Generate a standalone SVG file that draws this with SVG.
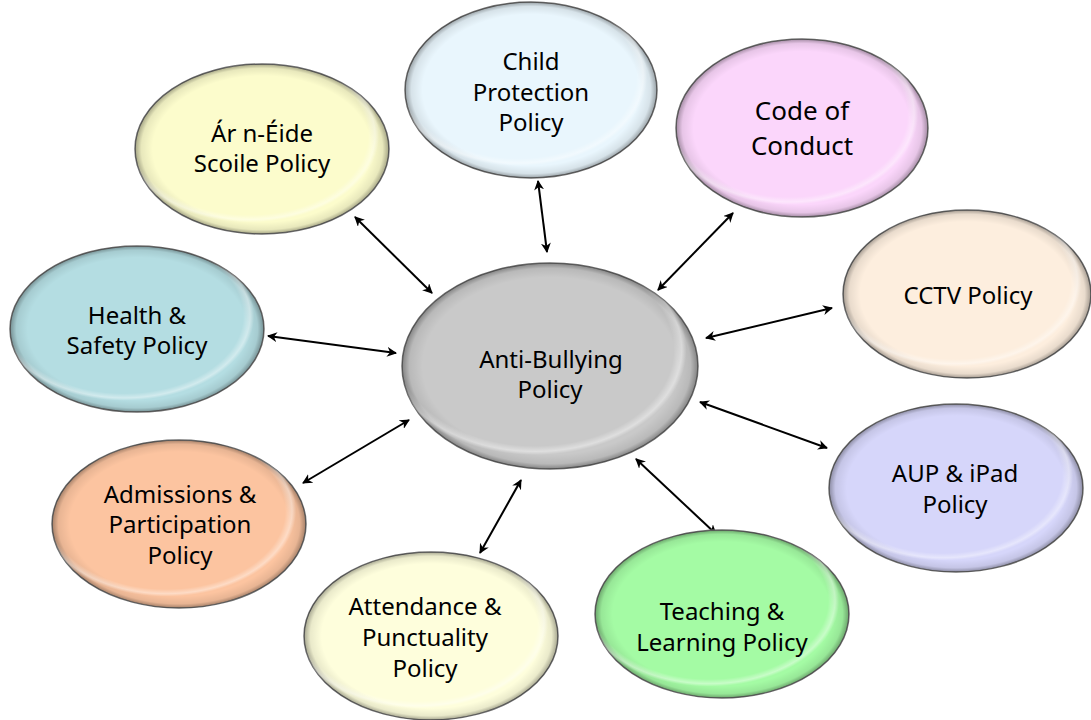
<svg xmlns="http://www.w3.org/2000/svg" width="1091" height="720" viewBox="0 0 1091 720">
<defs>
<radialGradient id="bevel" cx="0.5" cy="0.5" r="0.5">
<stop offset="0.86" stop-color="#000" stop-opacity="0"/>
<stop offset="0.95" stop-color="#000" stop-opacity="0.08"/>
<stop offset="1" stop-color="#000" stop-opacity="0.35"/>
</radialGradient>
<radialGradient id="hl" cx="0.45" cy="0.42" r="0.55">
<stop offset="0.85" stop-color="#fff" stop-opacity="0"/>
<stop offset="0.9" stop-color="#fff" stop-opacity="0.4"/>
<stop offset="0.93" stop-color="#fff" stop-opacity="0"/>
</radialGradient>
<marker id="ah" viewBox="0 0 10 10" refX="9" refY="5" markerWidth="5" markerHeight="5" orient="auto-start-reverse" markerUnits="strokeWidth">
<path d="M0,0 L10,5 L0,10 L3,5 z" fill="#000"/>
</marker>
</defs>
<style>
.sh{stroke:#6f6f6f;stroke-width:1.5}
.bv{fill:url(#bevel)}
.hl{fill:url(#hl)}
text{font-family:"Noto Sans","Open Sans",sans-serif;font-size:24px;fill:#000;text-anchor:middle}
.big{font-size:26px}
.cn line{stroke:#000;stroke-width:2;marker-start:url(#ah);marker-end:url(#ah)}
</style>
<rect width="1091" height="720" fill="#fff"/>

<g id="connectors" class="cn">
<line x1="355" y1="217" x2="432" y2="293"/>
<line x1="538" y1="181" x2="547" y2="252"/>
<line x1="733" y1="213" x2="658" y2="290"/>
<line x1="268" y1="336" x2="396" y2="353"/>
<line x1="706" y1="338" x2="832" y2="308"/>
<line x1="700" y1="402" x2="827" y2="448"/>
<line x1="636" y1="459" x2="716" y2="534"/>
<line x1="521" y1="480" x2="480" y2="553"/>
<line x1="409" y1="420" x2="303" y2="483"/>
</g>

<g id="center">
<ellipse cx="550" cy="366" rx="148" ry="103" fill="#c9c9c9" class="sh"/>
<ellipse cx="550" cy="366" rx="148" ry="103" class="bv"/>
<ellipse cx="550" cy="366" rx="148" ry="103" class="hl"/>
<text x="551" y="368">Anti-Bullying</text>
<text x="550" y="398">Policy</text>
</g>

<g id="child-protection">
<ellipse cx="531" cy="90" rx="126" ry="88" fill="#e9f6fd" class="sh"/>
<ellipse cx="531" cy="90" rx="126" ry="88" class="bv"/>
<ellipse cx="531" cy="90" rx="126" ry="88" class="hl"/>
<text x="531" y="70">Child</text>
<text x="531" y="101">Protection</text>
<text x="531" y="131">Policy</text>
</g>

<g id="code-of-conduct">
<ellipse cx="802" cy="128" rx="126" ry="89" fill="#fbd6fb" class="sh"/>
<ellipse cx="802" cy="128" rx="126" ry="89" class="bv"/>
<ellipse cx="802" cy="128" rx="126" ry="89" class="hl"/>
<text class="big" x="802" y="120">Code of</text>
<text class="big" x="802" y="155">Conduct</text>
</g>

<g id="ar-n-eide">
<ellipse cx="262" cy="149" rx="127" ry="85" fill="#fcfccc" class="sh"/>
<ellipse cx="262" cy="149" rx="127" ry="85" class="bv"/>
<ellipse cx="262" cy="149" rx="127" ry="85" class="hl"/>
<text x="262" y="142">Ár n-Éide</text>
<text x="262" y="172">Scoile Policy</text>
</g>

<g id="health-safety">
<ellipse cx="137" cy="329" rx="127" ry="83" fill="#b4dde2" class="sh"/>
<ellipse cx="137" cy="329" rx="127" ry="83" class="bv"/>
<ellipse cx="137" cy="329" rx="127" ry="83" class="hl"/>
<text x="137" y="324">Health &amp;</text>
<text x="137" y="354">Safety Policy</text>
</g>

<g id="cctv">
<ellipse cx="967" cy="294" rx="124" ry="84" fill="#fdeede" class="sh"/>
<ellipse cx="967" cy="294" rx="124" ry="84" class="bv"/>
<ellipse cx="967" cy="294" rx="124" ry="84" class="hl"/>
<text x="968" y="304">CCTV Policy</text>
</g>

<g id="aup-ipad">
<ellipse cx="956" cy="488" rx="127" ry="84" fill="#d6d6fa" class="sh"/>
<ellipse cx="956" cy="488" rx="127" ry="84" class="bv"/>
<ellipse cx="956" cy="488" rx="127" ry="84" class="hl"/>
<text x="955" y="482">AUP &amp; iPad</text>
<text x="955" y="513">Policy</text>
</g>

<g id="admissions">
<ellipse cx="179" cy="524" rx="127" ry="84" fill="#fcc4a0" class="sh"/>
<ellipse cx="179" cy="524" rx="127" ry="84" class="bv"/>
<ellipse cx="179" cy="524" rx="127" ry="84" class="hl"/>
<text x="180" y="503">Admissions &amp;</text>
<text x="180" y="533">Participation</text>
<text x="180" y="564">Policy</text>
</g>

<g id="attendance">
<ellipse cx="431" cy="636" rx="127" ry="84" fill="#fefedc" class="sh"/>
<ellipse cx="431" cy="636" rx="127" ry="84" class="bv"/>
<ellipse cx="431" cy="636" rx="127" ry="84" class="hl"/>
<text x="425" y="615">Attendance &amp;</text>
<text x="425" y="646">Punctuality</text>
<text x="425" y="677">Policy</text>
</g>

<g id="teaching">
<ellipse cx="722" cy="614" rx="127" ry="84" fill="#a4fba4" class="sh"/>
<ellipse cx="722" cy="614" rx="127" ry="84" class="bv"/>
<ellipse cx="722" cy="614" rx="127" ry="84" class="hl"/>
<text x="722" y="620">Teaching &amp;</text>
<text x="722" y="651">Learning Policy</text>
</g>
</svg>
